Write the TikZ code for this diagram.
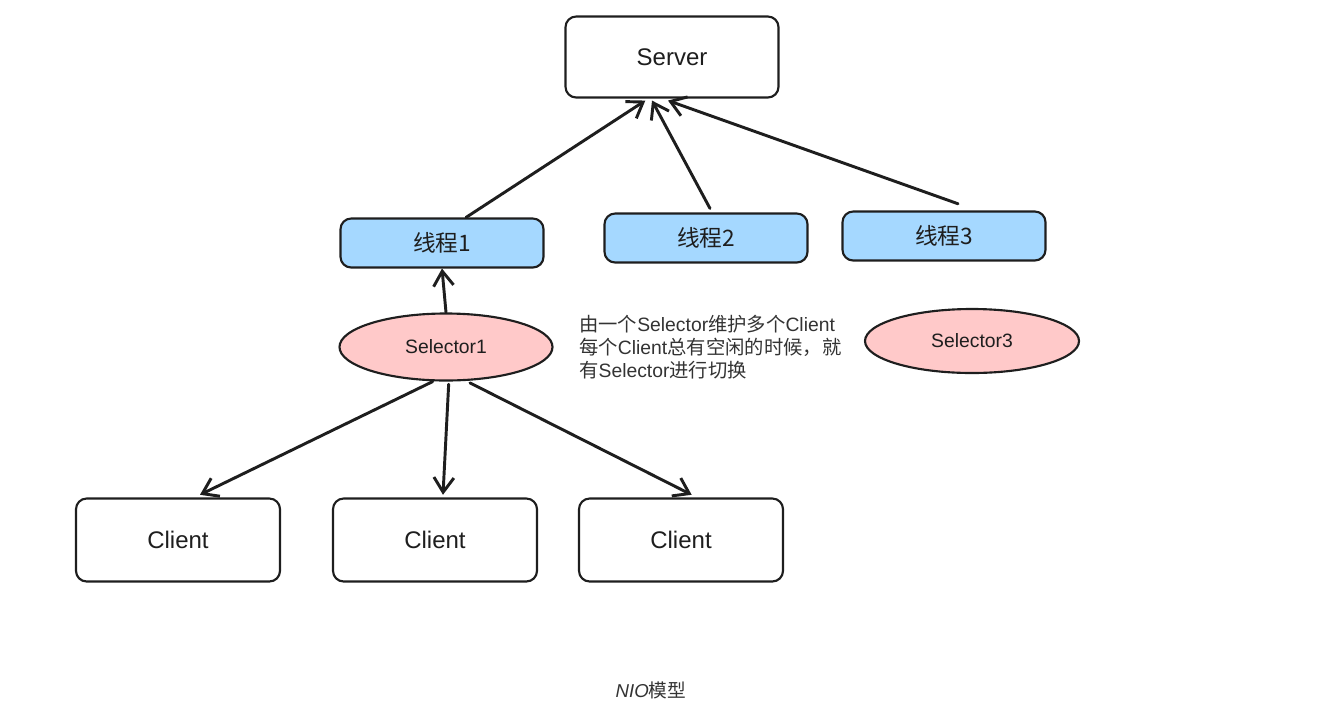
\documentclass[tikz,border=0pt]{standalone}
\usepackage{fontspec}
\setmainfont{Liberation Sans}
\newfontfamily\cjk{Noto Sans CJK SC}
\usetikzlibrary{arrows.meta,calc,shapes.geometric}
\definecolor{ink}{HTML}{1E1E1E}
\definecolor{tblue}{HTML}{A5D8FF}
\definecolor{spink}{HTML}{FFC9C9}
\definecolor{txt}{HTML}{333333}
\tikzset{
  box/.style={draw=ink, line width=1.6pt, rounded corners=8pt, fill=white, align=center, text=ink},
  srvbox/.style={box, minimum width=159.75pt, minimum height=60.75pt, font=\fontsize{18}{21}\selectfont},
  clibox/.style={box, minimum width=153pt, minimum height=62.25pt, font=\fontsize{18}{21}\selectfont},
  thrbox/.style={box, fill=tblue, minimum width=152.25pt, minimum height=36.75pt, font=\cjk\fontsize{17}{20}\selectfont},
  selell/.style={ellipse, draw=ink, line width=1.6pt, fill=spink, inner sep=0pt, text=ink, font=\fontsize{14.5}{17}\selectfont},
  arr/.style={draw=ink, line width=2.2pt, line cap=round, -{Straight Barb[length=11pt, width=15pt, line width=2.2pt]}},
}
\begin{document}
\begin{tikzpicture}[x=0.75pt, y=-0.75pt]
\useasboundingbox (0,0) rectangle (1320,722);
\node[srvbox] (server) at (672,57) {Server};
\node[thrbox] (t1) at (442,243) {线程1};
\node[thrbox] (t2) at (706,238) {线程2};
\node[thrbox] (t3) at (944,236) {线程3};
\node[selell, minimum width=159.75pt, minimum height=50.25pt] (sel1) at (446,347) {Selector1};
\node[selell, minimum width=160.5pt, minimum height=48pt] (sel3) at (972,341) {Selector3};
\node[clibox] (c1) at (178,540) {Client};
\node[clibox] (c2) at (435,540) {Client};
\node[clibox] (c3) at (681,540) {Client};
\node[anchor=north west, inner sep=0pt, align=left, text=txt, font=\fontsize{14.5}{17.25}\selectfont] (note) at (579,315) {{\cjk 由一个}Selector{\cjk 维护多个}Client\\{\cjk 每个}Client{\cjk 总有空闲的时候，就}\\{\cjk 有}Selector{\cjk 进行切换}};
\node[text=txt, inner sep=0pt, font=\fontsize{14}{16}\selectfont] (cap) at (651,690) {\textit{NIO}{\cjk 模型}};
\draw[arr] ([xshift=18pt]t1.north) -- ([xshift=-20pt, yshift=-1.5pt]server.south);
\draw[arr] ([xshift=3pt, yshift=3pt]t2.north) -- ([xshift=-15pt, yshift=-1.5pt]server.south);
\draw[arr] ([xshift=10.5pt, yshift=5pt]t3.north) -- ([xshift=-3pt, yshift=-1.5pt]server.south);
\draw[arr] (sel1.north) -- (t1.south);
\draw[arr] ([xshift=-10pt]sel1.south) -- ([xshift=16.5pt, yshift=2pt]c1.north);
\draw[arr] ([xshift=2pt, yshift=-2pt]sel1.south) -- ([xshift=6pt, yshift=2pt]c2.north);
\draw[arr] ([xshift=18pt, yshift=-1pt]sel1.south) -- ([xshift=8pt, yshift=2pt]c3.north);
\end{tikzpicture}
\end{document}
